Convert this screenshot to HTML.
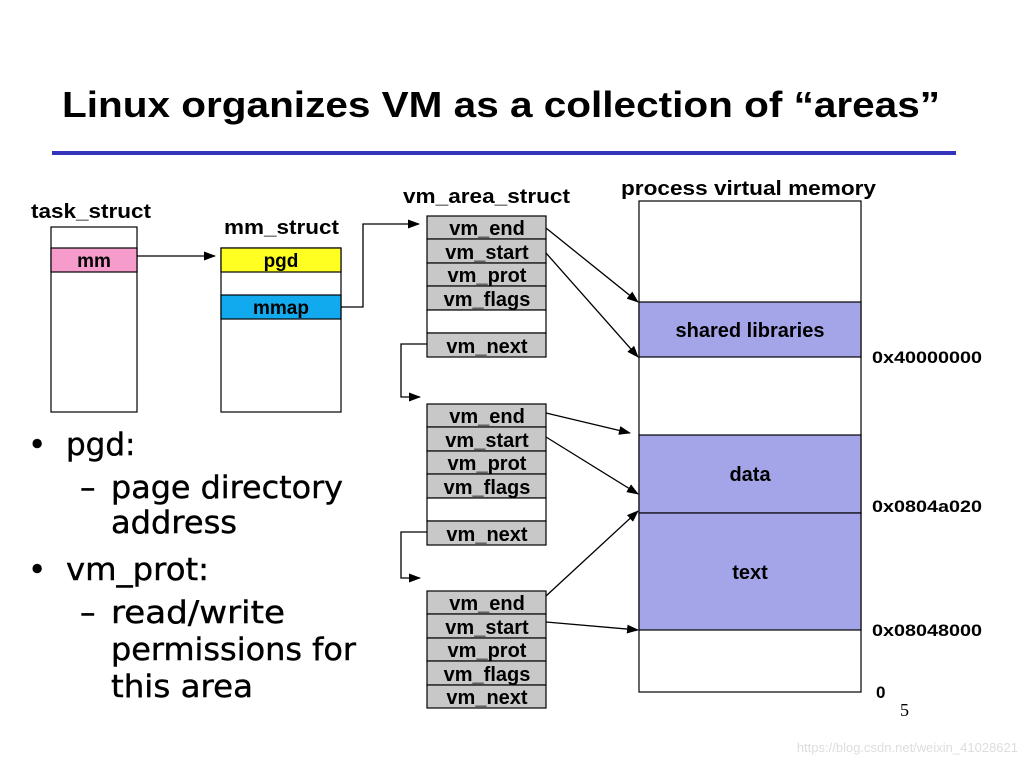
<!DOCTYPE html>
<html><head><meta charset="utf-8"><style>
html,body{margin:0;padding:0;background:#fff;}
svg{display:block;}
</style></head><body>
<svg width="1024" height="768" viewBox="0 0 1024 768" xmlns="http://www.w3.org/2000/svg" font-family="Liberation Sans, sans-serif">
<defs>
<marker id="a" markerWidth="12" markerHeight="9" refX="11" refY="4.5" orient="auto" markerUnits="userSpaceOnUse">
<path d="M0,0 L12,4.5 L0,9 Z" fill="#000"/></marker>
</defs>
<text x="62" y="117" font-size="36" font-weight="bold" textLength="878" lengthAdjust="spacingAndGlyphs">Linux organizes VM as a collection of “areas”</text>
<rect x="52" y="151" width="904" height="4" fill="#3333bb"/>

<g font-weight="bold" font-size="20">
<text x="31" y="218" textLength="120" lengthAdjust="spacingAndGlyphs">task_struct</text>
<text x="224" y="234" textLength="115" lengthAdjust="spacingAndGlyphs">mm_struct</text>
<text x="403" y="203" textLength="167" lengthAdjust="spacingAndGlyphs">vm_area_struct</text>
<text x="621" y="195" textLength="255" lengthAdjust="spacingAndGlyphs">process virtual memory</text>
</g>

<g stroke="#000" stroke-width="1.2">
<rect x="51" y="227" width="86" height="185" fill="#fff"/>
<rect x="51" y="248" width="86" height="24" fill="#f59ccc"/>
<rect x="221" y="248" width="120" height="164" fill="#fff"/>
<rect x="221" y="248" width="120" height="24" fill="#ffff22"/>
<rect x="221" y="295" width="120" height="24" fill="#11aaee"/>
</g>
<g font-weight="bold" font-size="19" text-anchor="middle">
<text x="94" y="267">mm</text>
<text x="281" y="267">pgd</text>
<text x="281" y="314">mmap</text>
</g>

<g stroke="#000" stroke-width="1.2" fill="#c8c8c8">
<rect x="427" y="216" width="119" height="23"/><rect x="427" y="239" width="119" height="24"/>
<rect x="427" y="263" width="119" height="23"/><rect x="427" y="286" width="119" height="24"/>
<rect x="427" y="310" width="119" height="23" fill="#fff"/><rect x="427" y="333" width="119" height="24"/>
<rect x="427" y="404" width="119" height="23"/><rect x="427" y="427" width="119" height="24"/>
<rect x="427" y="451" width="119" height="23"/><rect x="427" y="474" width="119" height="24"/>
<rect x="427" y="498" width="119" height="23" fill="#fff"/><rect x="427" y="521" width="119" height="24"/>
<rect x="427" y="591" width="119" height="23"/><rect x="427" y="614" width="119" height="24"/>
<rect x="427" y="638" width="119" height="23"/><rect x="427" y="661" width="119" height="24"/>
<rect x="427" y="685" width="119" height="23"/>
</g>
<g font-weight="bold" font-size="20" text-anchor="middle">
<text x="487" y="235">vm_end</text><text x="487" y="259">vm_start</text><text x="487" y="282">vm_prot</text><text x="487" y="306">vm_flags</text><text x="487" y="353">vm_next</text>
<text x="487" y="423">vm_end</text><text x="487" y="447">vm_start</text><text x="487" y="470">vm_prot</text><text x="487" y="494">vm_flags</text><text x="487" y="541">vm_next</text>
<text x="487" y="610">vm_end</text><text x="487" y="634">vm_start</text><text x="487" y="657">vm_prot</text><text x="487" y="681">vm_flags</text><text x="487" y="704">vm_next</text>
</g>

<g stroke="#000" stroke-width="1.2">
<rect x="639" y="201" width="222" height="491" fill="#fff"/>
<rect x="639" y="302" width="222" height="55" fill="#a4a4e8"/>
<rect x="639" y="435" width="222" height="78" fill="#a4a4e8"/>
<rect x="639" y="513" width="222" height="117" fill="#a4a4e8"/>
</g>
<g font-weight="bold" font-size="20" text-anchor="middle">
<text x="750" y="337">shared libraries</text>
<text x="750" y="481">data</text>
<text x="750" y="579">text</text>
</g>
<g font-weight="bold" font-size="17">
<text x="872" y="363" textLength="110" lengthAdjust="spacingAndGlyphs">0x40000000</text>
<text x="872" y="512" textLength="110" lengthAdjust="spacingAndGlyphs">0x0804a020</text>
<text x="872" y="636" textLength="110" lengthAdjust="spacingAndGlyphs">0x08048000</text>
<text x="876" y="698">0</text>
</g>
<text x="900" y="716" font-family="Liberation Serif, serif" font-size="18">5</text>

<g stroke="#000" stroke-width="1.3" fill="none" marker-end="url(#a)">
<line x1="137" y1="256" x2="215" y2="256"/>
<polyline points="341,307 363,307 363,224 419,224"/>
<polyline points="427,344 401,344 401,397 420,397"/>
<polyline points="427,532 401,532 401,578 420,578"/>
<line x1="546" y1="228" x2="638" y2="302"/>
<line x1="546" y1="253" x2="638" y2="357"/>
<line x1="546" y1="413" x2="630" y2="433"/>
<line x1="546" y1="437" x2="638" y2="494"/>
<line x1="546" y1="596" x2="638" y2="511"/>
<line x1="546" y1="622" x2="638" y2="630"/>
</g>

<g font-family="DejaVu Sans, sans-serif" font-size="31" stroke="#000" stroke-width="0.4">
<text x="28" y="455">•</text><text x="66" y="455">pgd:</text>
<text x="80" y="498">–</text><text x="111" y="498" textLength="232" lengthAdjust="spacingAndGlyphs">page directory</text>
<text x="111" y="533" textLength="126" lengthAdjust="spacingAndGlyphs">address</text>
<text x="28" y="580">•</text><text x="66" y="580" textLength="143" lengthAdjust="spacingAndGlyphs">vm_prot:</text>
<text x="80" y="623">–</text><text x="111" y="623" textLength="174" lengthAdjust="spacingAndGlyphs">read/write</text>
<text x="111" y="660" textLength="245" lengthAdjust="spacingAndGlyphs">permissions for</text>
<text x="111" y="697" textLength="142" lengthAdjust="spacingAndGlyphs">this area</text>
</g>
<text x="1018" y="752" text-anchor="end" font-size="13" fill="#dddddd">https://blog.csdn.net/weixin_41028621</text>
</svg>
</body></html>
